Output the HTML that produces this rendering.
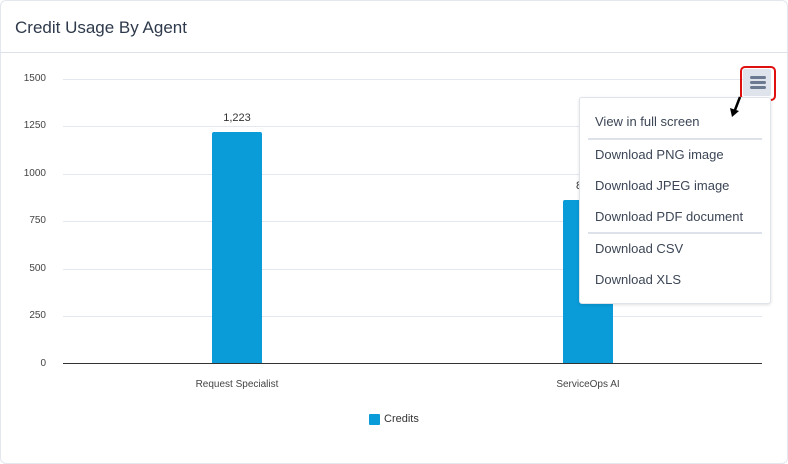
<!DOCTYPE html>
<html><head><style>
body{margin:0;width:788px;height:464px;background:#fff;font-family:"Liberation Sans",sans-serif;overflow:hidden}
.card{position:absolute;left:0;top:0;width:786px;height:462px;border:1px solid #e3e7ee;border-radius:6px}
.t{position:absolute;left:15px;top:18px;font-size:17px;color:#2e3a4b}
.hr{position:absolute;left:0;top:52px;width:788px;height:1px;background:#dde2ea}
.g{position:absolute;left:63px;width:699px;height:1px;background:#e3e8f0}
.yl{position:absolute;width:46px;text-align:right;left:0;font-size:10px;color:#444}
.bar{position:absolute;background:#0a9bd9;border-radius:2px 2px 0 0;width:50px}
.xl{position:absolute;font-size:10px;color:#444;text-align:center;width:200px}
.menu{position:absolute;left:579px;top:97px;width:190px;height:205px;background:#fff;border:1px solid #dfe3ea;border-radius:3px;box-shadow:0 1px 3px rgba(0,0,0,.12)}
.mi{position:absolute;left:15px;font-size:13px;color:#3c4656}
.sep{position:absolute;left:8px;width:174px;height:2px;background:#dde2ea}
</style></head><body>
<div class="card"></div>
<div class="t">Credit Usage By Agent</div>
<div class="hr"></div>
<div class="g" style="top:79px"></div><div class="yl" style="top:73px">1500</div>
<div class="g" style="top:126px"></div><div class="yl" style="top:120px">1250</div>
<div class="g" style="top:174px"></div><div class="yl" style="top:168px">1000</div>
<div class="g" style="top:221px"></div><div class="yl" style="top:215px">750</div>
<div class="g" style="top:269px"></div><div class="yl" style="top:263px">500</div>
<div class="g" style="top:316px"></div><div class="yl" style="top:310px">250</div>
<div class="yl" style="top:358px">0</div>
<div class="bar" style="left:212px;top:132px;height:232px"></div>
<div class="bar" style="left:563px;top:200px;height:164px"></div>
<div class="g" style="top:363px;background:#333"></div>
<div style="position:absolute;left:212px;width:50px;text-align:center;top:112px;font-size:11px;color:#333">1,223</div>
<div style="position:absolute;left:576px;top:180px;font-size:11px;color:#333">8</div>
<div class="xl" style="left:137px;top:379px">Request Specialist</div>
<div class="xl" style="left:488px;top:379px">ServiceOps AI</div>
<div style="position:absolute;left:369px;top:414px;width:11px;height:11px;background:#0a9bd9;border-radius:1px"></div>
<div style="position:absolute;left:384px;top:413px;font-size:11px;color:#333">Credits</div>
<div style="position:absolute;left:740px;top:66px;width:32px;height:31px;border:2px solid #e01010;border-radius:5px"></div>
<div style="position:absolute;left:743px;top:69px;width:28px;height:27px;background:#dfe4ec;border-radius:2px"></div>
<div style="position:absolute;left:750px;top:76px;width:16px;height:3px;background:#6c7a91;border-radius:2px;box-shadow:0 5px 0 #6c7a91,0 10px 0 #6c7a91"></div>
<div class="menu">
<div class="mi" style="top:16px">View in full screen</div>
<div class="sep" style="top:40px"></div>
<div class="mi" style="top:49px">Download PNG image</div>
<div class="mi" style="top:80px">Download JPEG image</div>
<div class="mi" style="top:111px">Download PDF document</div>
<div class="sep" style="top:134px"></div>
<div class="mi" style="top:143px">Download CSV</div>
<div class="mi" style="top:174px">Download XLS</div>
</div>
<svg style="position:absolute;left:726px;top:96px" width="20" height="25"><line x1="14" y1="1" x2="9" y2="14" stroke="#000" stroke-width="2.5"/><polygon points="4,12 13,15 6,21" fill="#000"/></svg>
</body></html>
